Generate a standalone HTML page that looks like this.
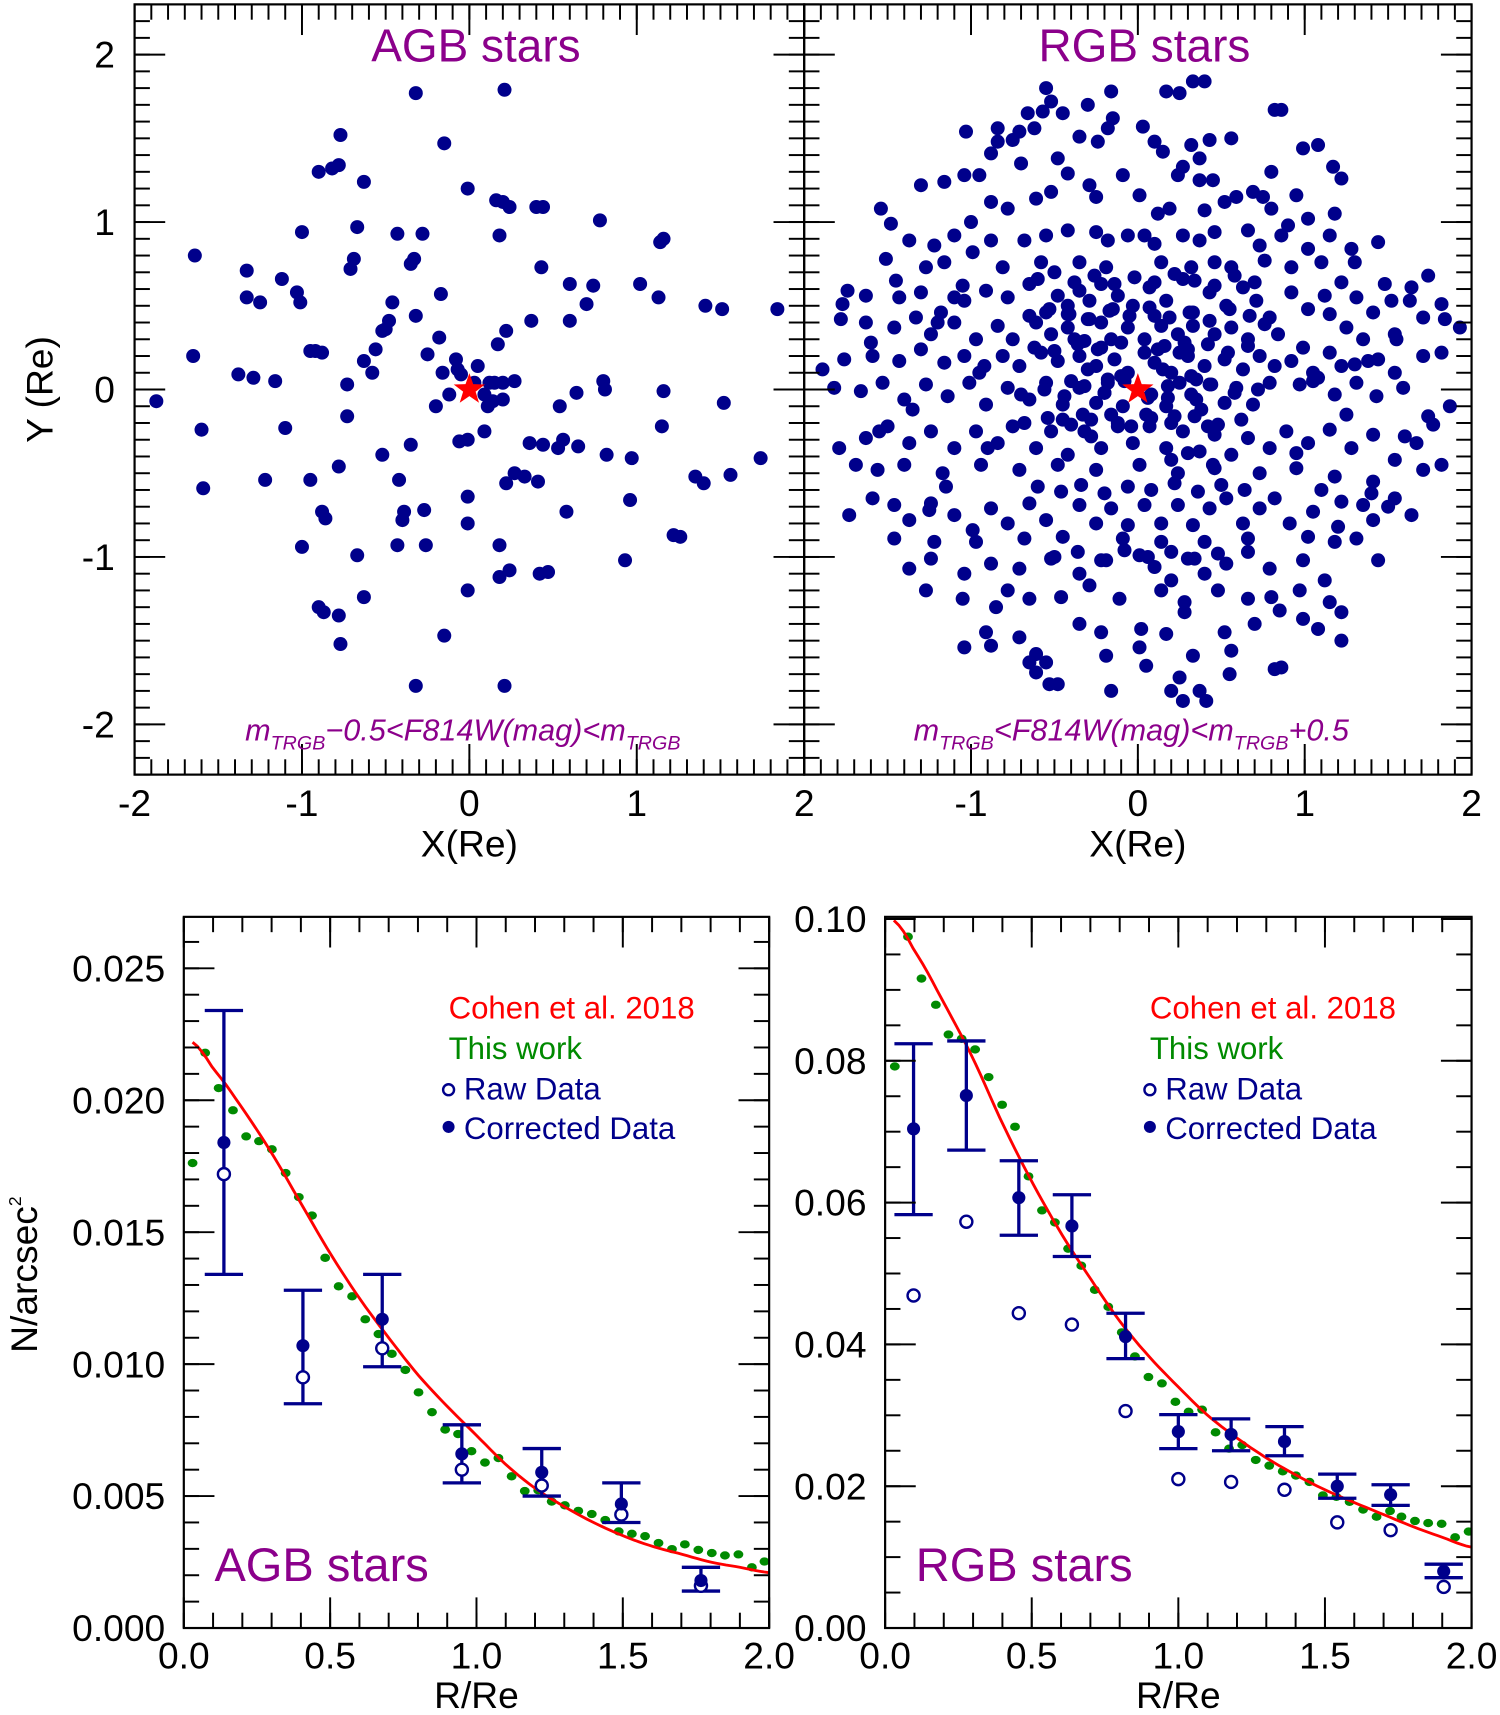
<!DOCTYPE html>
<html><head><meta charset="utf-8">
<style>
html,body{margin:0;padding:0;background:#fff;}
svg{display:block;font-family:"Liberation Sans",Arial,sans-serif;}
</style></head>
<body>
<svg id="chart" xmlns="http://www.w3.org/2000/svg" width="1500" height="1715" viewBox="0 0 1371 1567.5">
<rect x="0" y="0" width="1371" height="1567.5" fill="#fff"/>
</svg>
<script>
// ---------- DATA ----------
const agbX=[-1.87,-1.64,-1.65,-1.60,-1.59,-1.38,-1.33,-1.33,-1.25,-1.29,-1.22,-1.16,-1.12,-1.10,-1.03,-1.01,-1.00,-1.00,-0.95,-0.92,-0.90,-0.87,-0.95,-0.90,-0.88,-0.88,-0.86,-0.82,-0.78,-0.77,-0.77,-0.78,-0.78,-0.73,-0.73,-0.71,-0.69,-0.67,-0.67,-0.63,-0.63,-0.63,-0.58,-0.56,-0.52,-0.50,-0.48,-0.46,-0.52,-0.43,-0.43,-0.42,-0.40,-0.39,-0.35,-0.35,-0.33,-0.32,-0.32,-0.32,-0.28,-0.26,-0.27,-0.25,-0.20,-0.18,-0.17,-0.15,-0.15,-0.16,-0.12,-0.08,-0.07,-0.06,-0.05,-0.01,-0.01,-0.01,-0.01,-0.01,0.03,0.05,0.09,0.09,0.11,0.12,0.14,0.15,0.17,0.20,0.20,0.21,0.21,0.18,0.18,0.16,0.20,0.22,0.22,0.24,0.18,0.24,0.27,0.27,0.33,0.36,0.37,0.40,0.41,0.42,0.44,0.43,0.44,0.47,0.53,0.54,0.56,0.58,0.60,0.60,0.64,0.65,0.70,0.74,0.80,0.81,0.82,0.78,0.93,0.96,0.97,1.02,1.13,1.15,1.16,1.14,1.16,1.22,1.26,1.35,1.40,1.41,1.51,1.52,1.56,1.74,1.84];
const agbY=[-0.07,0.80,0.20,-0.24,-0.59,0.09,0.71,0.55,0.52,0.07,-0.54,0.05,0.66,-0.23,0.58,0.52,0.94,-0.94,-0.54,0.23,-1.30,-1.33,0.23,1.30,0.22,-0.73,-0.77,1.32,1.34,1.52,-1.52,-1.35,-0.46,0.03,-0.16,0.72,0.78,0.97,-0.99,1.24,-1.24,0.17,0.10,0.24,0.35,0.36,0.41,0.52,-0.39,0.93,-0.93,-0.54,-0.78,-0.73,-0.33,0.75,0.78,1.77,-1.77,0.44,0.93,-0.93,-0.72,0.21,-0.10,0.31,0.57,1.47,-1.47,0.10,-0.03,0.18,0.12,-0.31,0.09,1.20,-0.80,-1.20,-0.64,-0.30,0.04,0.14,-0.03,-0.25,-0.10,0.04,-0.07,0.04,0.27,0.04,-0.06,1.79,-1.77,0.92,-0.93,1.13,1.12,0.35,-0.56,1.09,-1.12,-1.08,0.05,-0.50,-0.52,-0.32,0.41,1.09,-0.55,-1.10,1.09,0.73,-0.33,-1.09,-0.35,-0.10,-0.30,-0.73,0.63,0.41,-0.02,-0.34,0.51,0.62,0.05,0.00,-0.39,1.01,-1.02,-0.66,-0.41,0.63,0.55,-0.22,-0.01,0.88,0.90,-0.87,-0.88,-0.52,-0.56,0.50,0.48,-0.08,-0.51,-0.41,0.48,0.26];

const rgbX=[-0.55,-0.16,0.17,0.33,0.40,-0.52,0.25,0.82,0.86,0.03,-0.18,-0.66,-0.57,-0.71,-0.62,-0.75,-0.84,-1.03,-0.84,-0.88,-0.35,-0.24,0.10,0.15,0.32,0.43,0.56,0.37,0.99,1.08,1.17,1.22,-0.48,-0.42,-0.29,-0.09,-1.04,-1.16,-1.54,-1.30,-0.88,-0.78,-0.61,-0.52,0.27,0.24,0.37,0.45,0.52,0.59,0.69,0.75,0.80,0.95,-0.25,0.01,0.12,0.19,0.40,1.02,1.18,-1.48,-1.37,-1.22,-1.10,-0.99,-0.88,-0.68,-0.55,-0.42,-0.25,-0.18,-0.06,0.04,0.10,0.27,0.37,0.46,0.66,0.73,0.86,1.02,1.15,1.30,1.44,-1.51,-1.27,-1.16,-0.81,-0.58,-0.35,-0.19,0.14,0.32,0.46,0.56,0.76,0.92,1.10,1.28,-1.74,-1.77,-1.63,-1.43,-1.30,-1.18,-1.04,-0.91,-0.78,-0.65,-0.55,-0.48,-0.42,-0.35,-0.29,-0.22,-0.12,-0.03,0.07,0.17,0.27,0.33,0.43,0.53,0.63,0.71,0.79,0.92,1.02,1.12,1.22,1.31,1.41,1.52,1.64,1.74,1.82,1.63,1.48,-1.78,-1.63,-1.46,-1.33,-1.24,-1.10,-0.97,-0.84,-0.75,-0.61,-0.52,-0.42,-0.32,-0.22,-0.16,-0.06,0.04,0.14,0.24,0.33,0.46,0.56,0.66,0.76,0.84,0.99,1.15,1.25,1.35,1.44,1.54,1.71,1.84,1.93,-1.89,-1.76,-1.59,-1.43,-1.30,-1.16,-1.04,-0.92,-0.81,-0.71,-0.58,-0.48,-0.35,-0.25,-0.14,-0.06,0.10,0.20,0.30,0.40,0.52,0.63,0.73,0.82,0.92,1.05,1.22,1.38,1.54,1.71,1.82,-1.82,-1.66,-1.53,-1.40,-1.27,-1.14,-1.01,-0.91,-0.78,-0.65,-0.55,-0.45,-0.35,-0.25,-0.18,-0.09,0.08,0.17,0.25,0.35,0.43,0.52,0.59,0.69,0.79,0.97,1.08,1.18,1.31,1.43,1.59,1.74,1.87,1.77,-1.79,-1.63,-1.50,-1.37,-1.24,-1.10,-0.97,-0.84,-0.75,-0.61,-0.52,-0.42,-0.32,-0.22,-0.12,-0.03,0.07,0.17,0.27,0.37,0.46,0.56,0.66,0.79,0.89,1.02,1.15,1.28,1.41,1.54,1.67,1.82,1.71,-1.69,-1.56,-1.40,-1.17,-0.94,-0.71,-0.48,-0.25,0.01,0.24,0.46,0.73,0.95,1.18,1.41,-1.73,-1.59,-1.46,-1.37,-1.24,-1.10,-0.99,-0.88,-0.78,-0.65,-0.55,-0.45,-0.35,-0.25,-0.16,-0.06,0.04,0.14,0.24,0.33,0.43,0.53,0.63,0.73,0.82,0.91,1.05,1.22,1.35,1.54,1.64,1.41,-1.46,-1.22,-0.97,-0.68,-0.09,0.14,0.40,0.66,1.02,1.18,1.31,-1.37,-1.24,-1.04,-0.88,-0.71,-0.52,-0.35,-0.19,0.01,0.10,0.20,0.30,0.40,0.53,0.66,0.79,0.99,1.12,1.44,-1.27,-1.05,-0.78,-0.65,-0.46,-0.29,-0.11,0.14,0.28,0.48,0.66,0.80,0.97,1.15,-1.04,-0.91,-0.71,-0.61,-0.55,-0.53,-0.35,-0.22,-0.16,0.01,0.02,0.17,0.20,0.28,0.37,0.41,0.52,0.56,0.82,0.86,0.99,1.08,1.22,1.22,-0.61,-0.65,-0.19,0.33,0.27,-0.48,-0.88,
-0.40,-0.30,-0.20,-0.10,0.05,0.15,0.25,0.35,-0.45,-0.33,-0.22,-0.12,0.12,0.22,0.32,0.42,-0.38,-0.28,-0.18,0.18,0.28,0.38,-0.42,-0.30,-0.15,0.10,0.20,0.30,0.45,
-0.60,-0.50,-0.38,-0.26,-0.14,-0.02,0.10,0.22,0.34,0.46,0.58,0.70,-0.65,-0.53,-0.41,-0.29,-0.17,-0.05,0.07,0.19,0.31,0.43,0.55,0.67,-0.62,-0.50,-0.36,-0.24,-0.10,0.04,0.16,0.30,0.42,0.54,0.66,-0.70,-0.56,-0.44,-0.32,-0.20,-0.08,0.06,0.18,0.32,0.44,0.58,0.72,-0.68,-0.54,-0.40,-0.28,-0.16,-0.04,0.08,0.20,0.34,0.48,0.62,-0.60,-0.46,-0.34,-0.20,-0.06,0.08,0.22,0.36,0.50,0.64,-0.50,-0.36,-0.22,-0.08,0.06,0.20,0.34,0.48,
-1.20,-1.05,-0.95,1.05,1.15,1.30,-1.35,-1.15,1.25,1.40,-0.90,0.95,-1.00,0.90,-1.25,1.20,-0.95,0.80,-0.85,0.85,-1.10,1.10,-0.70,0.70,-0.45,0.55,-0.30,0.25,-0.15,0.05,-1.55,1.60,-1.60,1.55,-1.45,1.50];
const rgbY=[1.80,1.78,1.78,1.84,1.84,1.72,1.77,1.67,1.67,1.57,1.56,1.65,1.66,1.54,1.56,1.49,1.56,1.54,1.48,1.41,1.51,1.48,1.48,1.42,1.46,1.49,1.50,1.38,1.44,1.46,1.33,1.26,1.38,1.29,1.22,1.28,1.28,1.24,1.08,1.22,1.12,1.08,1.14,1.18,1.33,1.28,1.25,1.25,1.12,1.15,1.18,1.15,1.08,1.16,1.15,1.16,1.05,1.08,1.07,1.02,1.05,0.99,0.89,0.86,0.92,0.82,0.89,0.89,0.92,0.95,0.94,0.89,0.92,0.92,0.87,0.92,0.89,0.94,0.95,0.86,0.92,0.84,0.92,0.76,0.88,0.78,0.73,0.76,0.73,0.76,0.76,0.73,0.76,0.73,0.76,0.73,0.77,0.73,0.76,0.84,0.59,0.51,0.56,0.55,0.58,0.46,0.53,0.59,0.55,0.63,0.46,0.56,0.50,0.59,0.53,0.63,0.56,0.50,0.61,0.53,0.66,0.46,0.58,0.50,0.61,0.53,0.43,0.58,0.48,0.56,0.64,0.55,0.46,0.53,0.61,0.68,0.51,0.53,0.63,0.42,0.40,0.37,0.43,0.33,0.40,0.30,0.38,0.30,0.40,0.33,0.37,0.29,0.40,0.30,0.37,0.30,0.38,0.33,0.38,0.33,0.37,0.30,0.39,0.33,0.25,0.22,0.37,0.30,0.18,0.33,0.43,0.42,0.37,0.12,0.18,0.20,0.17,0.24,0.16,0.20,0.14,0.20,0.14,0.22,0.17,0.20,0.14,0.18,0.10,0.16,0.10,0.20,0.14,0.18,0.12,0.20,0.14,0.17,0.10,0.14,0.17,0.10,0.20,0.22,0.01,-0.01,0.04,-0.06,0.03,-0.04,0.04,-0.09,0.01,-0.06,0.04,-0.09,0.01,-0.08,0.04,-0.10,-0.03,-0.10,0.04,-0.06,0.03,-0.08,0.01,-0.09,0.04,0.03,0.07,-0.03,0.04,-0.04,0.01,-0.16,-0.10,-0.21,-0.35,-0.29,-0.22,-0.32,-0.25,-0.35,-0.25,-0.32,-0.22,-0.35,-0.25,-0.39,-0.25,-0.35,-0.22,-0.32,-0.22,-0.35,-0.25,-0.37,-0.27,-0.39,-0.29,-0.35,-0.25,-0.32,-0.24,-0.35,-0.27,-0.42,-0.32,-0.45,-0.48,-0.45,-0.48,-0.45,-0.50,-0.45,-0.48,-0.45,-0.48,-0.45,-0.50,-0.47,-0.50,-0.47,-0.52,-0.55,-0.75,-0.65,-0.69,-0.78,-0.68,-0.75,-0.84,-0.71,-0.80,-0.68,-0.78,-0.88,-0.69,-0.80,-0.71,-0.81,-0.69,-0.80,-0.69,-0.81,-0.71,-0.65,-0.80,-0.71,-0.65,-0.80,-0.73,-0.67,-0.69,-0.65,-0.75,-0.78,-0.89,-0.91,-0.91,-0.89,-0.89,-0.91,-0.91,-0.89,-0.88,-0.91,-0.89,-1.07,-1.01,-1.10,-1.04,-1.07,-1.01,-1.10,-1.02,-0.99,-1.06,-1.14,-1.01,-1.10,-1.04,-0.97,-1.07,-1.02,-1.14,-1.02,-1.20,-1.25,-1.20,-1.25,-1.24,-1.17,-1.25,-1.20,-1.27,-1.20,-1.25,-1.24,-1.20,-1.27,-1.54,-1.45,-1.48,-1.58,-1.63,-1.76,-1.40,-1.45,-1.80,-1.54,-1.43,-1.46,-1.80,-1.33,-1.80,-1.86,-1.45,-1.56,-1.67,-1.66,-1.37,-1.43,-1.33,-1.50,-1.69,-1.63,-1.59,-1.59,-1.86,-1.76,-1.53,
0.05,0.12,-0.02,0.08,-0.15,0.12,0.22,0.06,-0.18,-0.15,0.25,-0.20,0.24,-0.16,0.08,-0.22,0.30,-0.28,0.06,-0.05,0.28,-0.12,0.45,0.42,0.48,0.44,-0.42,-0.38,-0.45,
0.66,0.70,0.64,0.68,0.63,0.67,0.64,0.69,0.65,0.62,0.68,0.64,0.44,0.48,0.45,0.42,0.47,0.44,0.49,0.43,0.46,0.41,0.48,0.44,0.25,0.23,0.27,0.24,0.28,0.22,0.26,0.24,0.27,0.22,0.26,-0.03,0.00,-0.04,0.02,-0.02,0.05,-0.05,0.02,-0.03,0.03,-0.02,0.00,-0.20,-0.17,-0.21,-0.18,-0.15,-0.22,-0.17,-0.20,-0.16,-0.21,-0.18,-0.58,-0.61,-0.57,-0.62,-0.58,-0.60,-0.56,-0.61,-0.57,-0.60,-1.00,-0.97,-1.02,-0.96,-1.00,-0.97,-1.01,-0.98,
0.40,0.62,0.10,0.05,0.45,0.15,-0.12,-0.58,-0.15,-0.62,-0.35,-0.38,1.00,0.98,-0.72,-0.82,1.28,1.30,-1.30,-1.32,0.55,-0.60,1.35,-1.40,1.65,-1.70,1.70,-1.72,1.62,-1.65,-0.25,-0.28,0.28,0.30,0.65,-0.70];

// Radial profile panels
const agbR=[0.137,0.407,0.678,0.950,1.223,1.495,1.767];
const agbCorr=[0.0184,0.0107,0.0117,0.0066,0.0059,0.0047,0.0018];
const agbRaw=[0.0172,0.0095,0.0106,0.0060,0.0054,0.0043,0.0016];
const agbErrHi=[0.0234,0.0128,0.0134,0.0077,0.0068,0.0055,0.0023];
const agbErrLo=[0.0134,0.0085,0.0099,0.0055,0.0050,0.0040,0.0014];
const agbModelR=[0.03,0.1,0.2,0.3,0.4,0.5,0.6,0.7,0.8,0.9,1.0,1.1,1.2,1.3,1.4,1.5,1.6,1.7,1.8,1.9,2.0];
const agbModel=[0.0222,0.0212,0.0197,0.0180,0.0161,0.0142,0.0125,0.0110,0.0096,0.0084,0.0073,0.0062,0.0053,0.0046,0.0040,0.0035,0.0031,0.0028,0.0025,0.0023,0.0021];
const agbFitR=[0.030,0.073,0.119,0.168,0.213,0.257,0.301,0.348,0.393,0.438,0.483,0.529,0.575,0.620,0.665,0.711,0.757,0.802,0.848,0.893,0.937,0.983,1.029,1.075,1.120,1.165,1.211,1.257,1.302,1.348,1.394,1.440,1.486,1.531,1.576,1.622,1.668,1.712,1.758,1.804,1.849,1.895,1.941,1.984];
const agbFit=[0.01762,0.02180,0.02046,0.01962,0.01863,0.01845,0.01814,0.01724,0.01633,0.01563,0.01403,0.01295,0.01257,0.01170,0.01114,0.01039,0.00978,0.00893,0.00818,0.00752,0.00735,0.00670,0.00627,0.00644,0.00575,0.00519,0.00522,0.00479,0.00465,0.00444,0.00432,0.00409,0.00366,0.00357,0.00348,0.00322,0.00299,0.00317,0.00296,0.00284,0.00275,0.00279,0.00230,0.00252];

const rgbR=[0.097,0.277,0.456,0.637,0.820,1.000,1.180,1.362,1.542,1.724,1.905];
const rgbCorr=[0.0704,0.0751,0.0607,0.0567,0.0411,0.0277,0.0273,0.0263,0.0200,0.0188,0.0080];
const rgbRaw=[0.0469,0.0573,0.0444,0.0428,0.0306,0.0210,0.0206,0.0195,0.0149,0.0138,0.0058];
const rgbErrHi=[0.0824,0.0828,0.0659,0.0611,0.0444,0.0301,0.0295,0.0284,0.0217,0.0202,0.0090];
const rgbErrLo=[0.0583,0.0674,0.0554,0.0524,0.0380,0.0253,0.0250,0.0243,0.0183,0.0173,0.0071];
const rgbModelR=[0.03,0.1,0.2,0.3,0.4,0.5,0.6,0.7,0.8,0.9,1.0,1.1,1.2,1.3,1.4,1.5,1.6,1.7,1.8,1.9,2.0];
const rgbModel=[0.0998,0.0955,0.0882,0.0803,0.0712,0.0630,0.0557,0.0493,0.0433,0.0383,0.0340,0.0300,0.0268,0.0240,0.0216,0.0195,0.0177,0.0160,0.0143,0.0128,0.0114];
const rgbFitR=[0.033,0.078,0.124,0.173,0.216,0.261,0.307,0.353,0.399,0.443,0.489,0.535,0.579,0.624,0.669,0.715,0.761,0.807,0.852,0.898,0.944,0.990,1.035,1.081,1.127,1.173,1.218,1.264,1.310,1.356,1.401,1.447,1.493,1.539,1.584,1.630,1.676,1.722,1.761,1.807,1.852,1.898,1.944,1.990];
const rgbFit=[0.0792,0.0975,0.0916,0.0879,0.0837,0.0831,0.0816,0.0777,0.0738,0.0707,0.0637,0.0589,0.0572,0.0535,0.0511,0.0477,0.0453,0.0417,0.0383,0.0354,0.0345,0.0319,0.0305,0.0308,0.0276,0.0253,0.0258,0.0237,0.0229,0.0221,0.0215,0.0206,0.0187,0.0185,0.0178,0.0167,0.0157,0.0165,0.0157,0.0151,0.0148,0.0147,0.0128,0.0136];

const topTicks=["-2","-1","0","1","2"];
const topTickVals=[-2,-1,0,1,2];
const agbYTicks=["0.000","0.005","0.010","0.015","0.020","0.025"];
const agbYTickVals=[0,0.005,0.010,0.015,0.020,0.025];
const rgbYTicks=["0.00","0.02","0.04","0.06","0.08","0.10"];
const rgbYTickVals=[0,0.02,0.04,0.06,0.08,0.10];
const rTicks=["0.0","0.5","1.0","1.5","2.0"];
const rTickVals=[0,0.5,1.0,1.5,2.0];

// ---------- DRAW ----------
const NS="http://www.w3.org/2000/svg";
const svg=document.getElementById('chart');
function mk(tag,attrs,parent){const e=document.createElementNS(NS,tag);for(const k in attrs)e.setAttribute(k,attrs[k]);(parent||svg).appendChild(e);return e;}
function lin(d0,d1,p0,p1){return v=>p0+(v-d0)/(d1-d0)*(p1-p0);}

const NAVY="#00008b",PURP="#8b008b";
const TF=34;

function frame(g,L,R,T,B){mk('rect',{x:L,y:T,width:R-L,height:B-T,fill:'none',stroke:'#000','stroke-width':2},g);}
function ticksX(g,sx,vals,len,L,R,T,B){vals.forEach(v=>{const x=sx(v);mk('line',{x1:x,y1:B,x2:x,y2:B-len,stroke:'#000','stroke-width':1.8},g);mk('line',{x1:x,y1:T,x2:x,y2:T+len,stroke:'#000','stroke-width':1.8},g);});}
function ticksY(g,sy,vals,len,L,R){vals.forEach(v=>{const y=sy(v);mk('line',{x1:L,y1:y,x2:L+len,y2:y,stroke:'#000','stroke-width':1.8},g);mk('line',{x1:R,y1:y,x2:R-len,y2:y,stroke:'#000','stroke-width':1.8},g);});}
function range(a,b,s){const r=[];for(let i=0;a+i*s<=b+1e-9;i++)r.push(+(a+i*s).toFixed(6));return r;}

function scatterPanel(name,L,R,xs,ys,title,sub1,sub2,sub3){
  const T=4,B=708;
  const g=mk('g',{});
  
  
  const sx=lin(-2,2,L,R), sy=lin(-2.3,2.3,B,T);
  const pts=mk('g',{fill:NAVY},g);
  
  
  for(let i=0;i<Math.min(xs.length,ys.length);i++){
    const c=mk('circle',{cx:sx(xs[i]),cy:sy(ys[i]),r:6.4},pts);
    
    
  }
  const cx=sx(0),cy=sy(0),ro=15,ri=6;let p='';
  for(let k=0;k<10;k++){const a=-Math.PI/2+k*Math.PI/5,r=k%2?ri:ro;p+=(cx+r*Math.cos(a)).toFixed(1)+','+(cy+r*Math.sin(a)).toFixed(1)+' ';}
  const st=mk('polygon',{points:p,fill:'#ff0000'},g);
  
  
  frame(g,L,R,T,B);
  ticksX(g,sx,range(-2,2,0.1),14,L,R,T,B);
  ticksX(g,sx,range(-2,2,1),28,L,R,T,B);
  ticksY(g,sy,range(-2.3,2.3,0.1),14,L,R);
  ticksY(g,sy,range(-2,2,1),28,L,R);
  const t=mk('text',{x:(L+R)/2+6,y:56,'font-size':42,fill:PURP,'text-anchor':'middle'},g);t.textContent=title;
  
  const s=mk('text',{x:(L+R)/2-6,y:677,'font-size':28,fill:PURP,'text-anchor':'middle','font-style':'italic'},g);
  
  const parts=[[sub1,0],['TRGB',1],[sub2,0],['TRGB',1],[sub3,0]];
  parts.forEach(([txt,isSub])=>{if(!txt)return;const ts=mk('tspan',{},s);if(isSub){ts.setAttribute('font-size',18);ts.setAttribute('dy',8);}else{ts.setAttribute('dy',-8);}ts.textContent=txt;});
  s.firstChild.setAttribute('dy',0);
  const xl=mk('text',{x:sx(0)+0,y:783,'font-size':TF,'text-anchor':'middle'},g);xl.textContent='X(Re)';
  
  return {sx,sy,g};
}
const A=scatterPanel('agb',123,735,agbX,agbY,'AGB stars','m','−0.5<F814W(mag)<m','');
const Rg=scatterPanel('rgb',735,1345,rgbX,rgbY,'RGB stars','m','<F814W(mag)<m','+0.5');

topTickVals.forEach((v,i)=>{
  const t=mk('text',{x:105,y:A.sy(v)+12,'font-size':TF,'text-anchor':'end'});t.textContent=topTicks[i];
  
  if(i<4){const u=mk('text',{x:A.sx(v),y:746,'font-size':TF,'text-anchor':'middle'});u.textContent=topTicks[i];
  }
  const w=mk('text',{x:Rg.sx(v),y:746,'font-size':TF,'text-anchor':'middle'});w.textContent=i==0?'2':topTicks[i];
  
});
const yt=mk('text',{x:0,y:0,'font-size':TF,'text-anchor':'middle',transform:'translate(48,356) rotate(-90)'});yt.textContent='Y (Re)';


function profilePanel(name,L,R,ymax,R_,corr,raw,hi,lo,mR,mV,fR,fV,yTV,yTL,yMinor,title){
  const T=838,B=1488;
  const g=mk('g',{});
  
  
  const sx=lin(0,2,L,R), sy=lin(0,ymax,B,T);
  const cp=mk('clipPath',{id:name+'clip'},g);mk('rect',{x:L,y:T,width:R-L,height:B-T},cp);
  const inner=mk('g',{'clip-path':'url(#'+name+'clip)'},g);
  fR.forEach((r,i)=>{const e=mk('ellipse',{cx:sx(r),cy:sy(fV[i]),rx:4.5,ry:3.8,fill:'#008a00'},inner);
    });
  let d='';const N=120;
  for(let k=0;k<=N;k++){const r=mR[0]+(mR[mR.length-1]-mR[0])*k/N;
    let j=0;while(j<mR.length-2&&r>mR[j+1])j++;
    const p0=mV[Math.max(j-1,0)],p1=mV[j],p2=mV[j+1],p3=mV[Math.min(j+2,mV.length-1)];
    const t=(r-mR[j])/(mR[j+1]-mR[j]);
    const v=0.5*((2*p1)+(-p0+p2)*t+(2*p0-5*p1+4*p2-p3)*t*t+(-p0+3*p1-3*p2+p3)*t*t*t);
    d+=(k?'L':'M')+sx(r).toFixed(1)+','+sy(v).toFixed(1);}
  const ml=mk('path',{d:d,fill:'none',stroke:'#ff0000','stroke-width':2.6},inner);
  
  R_.forEach((r,i)=>{const x=sx(r);
    const eb=mk('g',{stroke:NAVY,'stroke-width':3,fill:'none'},inner);
    
    mk('line',{x1:x,y1:sy(hi[i]),x2:x,y2:sy(lo[i])},eb);
    mk('line',{x1:x-17.5,y1:sy(hi[i]),x2:x+17.5,y2:sy(hi[i])},eb);
    mk('line',{x1:x-17.5,y1:sy(lo[i]),x2:x+17.5,y2:sy(lo[i])},eb);
    const o=mk('circle',{cx:x,cy:sy(raw[i]),r:5.5,fill:'#fff',stroke:NAVY,'stroke-width':2.2},inner);
    
    const f=mk('circle',{cx:x,cy:sy(corr[i]),r:6,fill:NAVY},inner);
    
  });
  frame(g,L,R,T,B);
  ticksX(g,sx,range(0,2,0.1),14,L,R,T,B);
  ticksX(g,sx,rTickVals,28,L,R,T,B);
  ticksY(g,sy,range(0,ymax,yMinor),14,L,R);
  ticksY(g,sy,yTV,28,L,R);
  yTV.forEach((v,i)=>{const t=mk('text',{x:L-17,y:sy(v)+12,'font-size':TF,'text-anchor':'end'},g);t.textContent=yTL[i];
    });
  rTickVals.forEach((v,i)=>{const t=mk('text',{x:sx(v),y:1525,'font-size':TF,'text-anchor':'middle'},g);t.textContent=rTicks[i];
    });
  const xl=mk('text',{x:(L+R)/2,y:1561,'font-size':TF,'text-anchor':'middle'},g);xl.textContent='R/Re';
  
  const tt=mk('text',{x:L+28,y:1445,'font-size':43,fill:PURP},g);tt.textContent=title;
  
  const lx=L+242;
  const lg=mk('g',{'font-size':28.5},g);
  
  const e1=mk('text',{x:lx,y:931,fill:'#ff0000'},lg);e1.textContent='Cohen et al. 2018';
  
  const e2=mk('text',{x:lx,y:968,fill:'#008a00'},lg);e2.textContent='This work';
  
  mk('circle',{cx:lx,cy:996,r:5,fill:'none',stroke:NAVY,'stroke-width':2.2},lg);
  const e3=mk('text',{x:lx+14,y:1005,fill:NAVY},lg);e3.textContent='Raw Data';
  
  mk('circle',{cx:lx,cy:1030,r:5.5,fill:NAVY},lg);
  const e4=mk('text',{x:lx+14,y:1041,fill:NAVY},lg);e4.textContent='Corrected Data';
  
}
profilePanel('agb',168,703,0.02695,agbR,agbCorr,agbRaw,agbErrHi,agbErrLo,agbModelR,agbModel,agbFitR,agbFit,agbYTickVals,agbYTicks,0.001,'AGB stars');
profilePanel('rgb',809,1345,0.1003,rgbR,rgbCorr,rgbRaw,rgbErrHi,rgbErrLo,rgbModelR,rgbModel,rgbFitR,rgbFit,rgbYTickVals,rgbYTicks,0.005,'RGB stars');

const nt=mk('text',{x:0,y:0,'font-size':TF,'text-anchor':'middle',transform:'translate(34,1165) rotate(-90)'});

const n1=mk('tspan',{},nt);n1.textContent='N/arcsec';
const n2=mk('tspan',{'font-size':16,dy:-15},nt);n2.textContent='2';
</script>
</body></html>
